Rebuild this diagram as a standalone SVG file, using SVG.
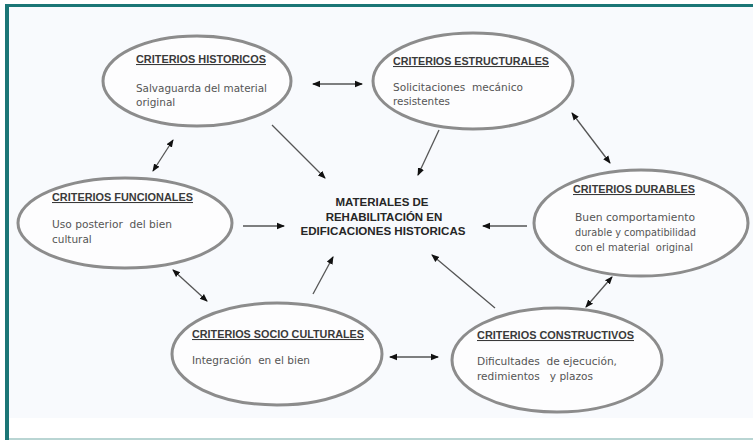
<svg xmlns="http://www.w3.org/2000/svg" width="753" height="440" viewBox="0 0 753 440">
<style>
.el{fill:#fdfdfe;stroke:#8c8c8c;stroke-width:3}
.tt{font-family:"Liberation Sans",Arial,sans-serif;font-weight:bold;font-size:10.5px;fill:#3a3a3a;text-decoration:underline}
.bd{font-family:"DejaVu Sans","Liberation Sans",sans-serif;font-size:10.5px;fill:#555555}
.ct{font-family:"Liberation Sans",Arial,sans-serif;font-weight:bold;font-size:11.5px;fill:#262626;text-anchor:middle}
.ln{stroke:#555;stroke-width:1.3;fill:none}
.one{marker-end:url(#ah)}
.two{marker-start:url(#as);marker-end:url(#ah)}
</style>
<defs>
<marker id="ah" markerUnits="userSpaceOnUse" markerWidth="8" markerHeight="8" viewBox="0 0 8 8" refX="7" refY="4" orient="auto">
<path d="M0,0.8 L8,4 L0,7.2 z" fill="#111"/>
</marker>
<marker id="as" markerUnits="userSpaceOnUse" markerWidth="8" markerHeight="8" viewBox="0 0 8 8" refX="1" refY="4" orient="auto">
<path d="M8,0.8 L0,4 L8,7.2 z" fill="#111"/>
</marker>
</defs>
<rect x="0" y="0" width="753" height="440" fill="#ffffff"/>
<rect x="9" y="7" width="744" height="411" fill="#f8fafd"/>
<rect x="5" y="4" width="748" height="3" fill="#1b7676"/>
<rect x="5" y="4" width="4" height="436" fill="#1b7676"/>
<rect x="9" y="438" width="744" height="2" fill="#b9d5d3"/>

<g id="connectors">
<line class="ln two" x1="313" y1="84" x2="362" y2="84"/>
<line class="ln two" x1="173" y1="140" x2="153" y2="171"/>
<line class="ln one" x1="272" y1="125" x2="325" y2="178"/>
<line class="ln one" x1="439" y1="130" x2="418" y2="175"/>
<line class="ln two" x1="572" y1="113" x2="610" y2="163"/>
<line class="ln one" x1="243" y1="226" x2="284" y2="226"/>
<line class="ln two" x1="173" y1="270" x2="207" y2="301"/>
<line class="ln one" x1="313" y1="294" x2="333" y2="257"/>
<line class="ln one" x1="527" y1="226" x2="483" y2="226"/>
<line class="ln one" x1="495" y1="308" x2="432" y2="255"/>
<line class="ln two" x1="612" y1="277" x2="586" y2="307"/>
<line class="ln two" x1="390" y1="357" x2="438" y2="357"/>
</g>

<g id="historicos">
<ellipse class="el" cx="197" cy="81" rx="94" ry="45"/>
<text class="tt" x="136" y="63" textLength="130" lengthAdjust="spacingAndGlyphs">CRITERIOS HISTORICOS</text>
<text class="bd" x="136" y="92" textLength="131" lengthAdjust="spacingAndGlyphs">Salvaguarda del material</text>
<text class="bd" x="136" y="106">original</text>
</g>

<g id="estructurales">
<ellipse class="el" cx="473" cy="81" rx="100" ry="48"/>
<text class="tt" x="393" y="65" textLength="156" lengthAdjust="spacingAndGlyphs">CRITERIOS ESTRUCTURALES</text>
<text class="bd" x="393" y="91" textLength="130" lengthAdjust="spacingAndGlyphs" xml:space="preserve">Solicitaciones  mecánico</text>
<text class="bd" x="393" y="105" textLength="57" lengthAdjust="spacingAndGlyphs">resistentes</text>
</g>

<g id="funcionales">
<ellipse class="el" cx="125" cy="223" rx="107" ry="45"/>
<text class="tt" x="52" y="201" textLength="141" lengthAdjust="spacingAndGlyphs">CRITERIOS FUNCIONALES</text>
<text class="bd" x="52" y="228" textLength="120" lengthAdjust="spacingAndGlyphs" xml:space="preserve">Uso posterior  del bien</text>
<text class="bd" x="52" y="243">cultural</text>
</g>

<g id="central">
<text class="ct" x="382" y="206">MATERIALES DE</text>
<text class="ct" x="384" y="221">REHABILITACIÓN EN</text>
<text class="ct" x="383" y="235" textLength="165" lengthAdjust="spacingAndGlyphs">EDIFICACIONES HISTORICAS</text>
</g>

<g id="durables">
<ellipse class="el" cx="641" cy="223" rx="107" ry="53"/>
<text class="tt" x="573" y="193" textLength="122" lengthAdjust="spacingAndGlyphs">CRITERIOS DURABLES</text>
<text class="bd" x="575" y="221" textLength="120" lengthAdjust="spacingAndGlyphs">Buen comportamiento</text>
<text class="bd" x="575" y="236" textLength="121" lengthAdjust="spacingAndGlyphs">durable y compatibilidad</text>
<text class="bd" x="575" y="251" textLength="118" lengthAdjust="spacingAndGlyphs" xml:space="preserve">con el material  original</text>
</g>

<g id="socioculturales">
<ellipse class="el" cx="277" cy="354" rx="105" ry="51"/>
<text class="tt" x="192" y="338" textLength="172" lengthAdjust="spacingAndGlyphs">CRITERIOS SOCIO CULTURALES</text>
<text class="bd" x="192" y="364" textLength="118" lengthAdjust="spacingAndGlyphs" xml:space="preserve">Integración  en el bien</text>
</g>

<g id="constructivos">
<ellipse class="el" cx="557" cy="360" rx="105" ry="52"/>
<text class="tt" x="477" y="339" textLength="157" lengthAdjust="spacingAndGlyphs">CRITERIOS CONSTRUCTIVOS</text>
<text class="bd" x="477" y="365" textLength="140" lengthAdjust="spacingAndGlyphs" xml:space="preserve">Dificultades  de ejecución,</text>
<text class="bd" x="477" y="380" textLength="116" lengthAdjust="spacingAndGlyphs" xml:space="preserve">redimientos   y plazos</text>
</g>
</svg>
